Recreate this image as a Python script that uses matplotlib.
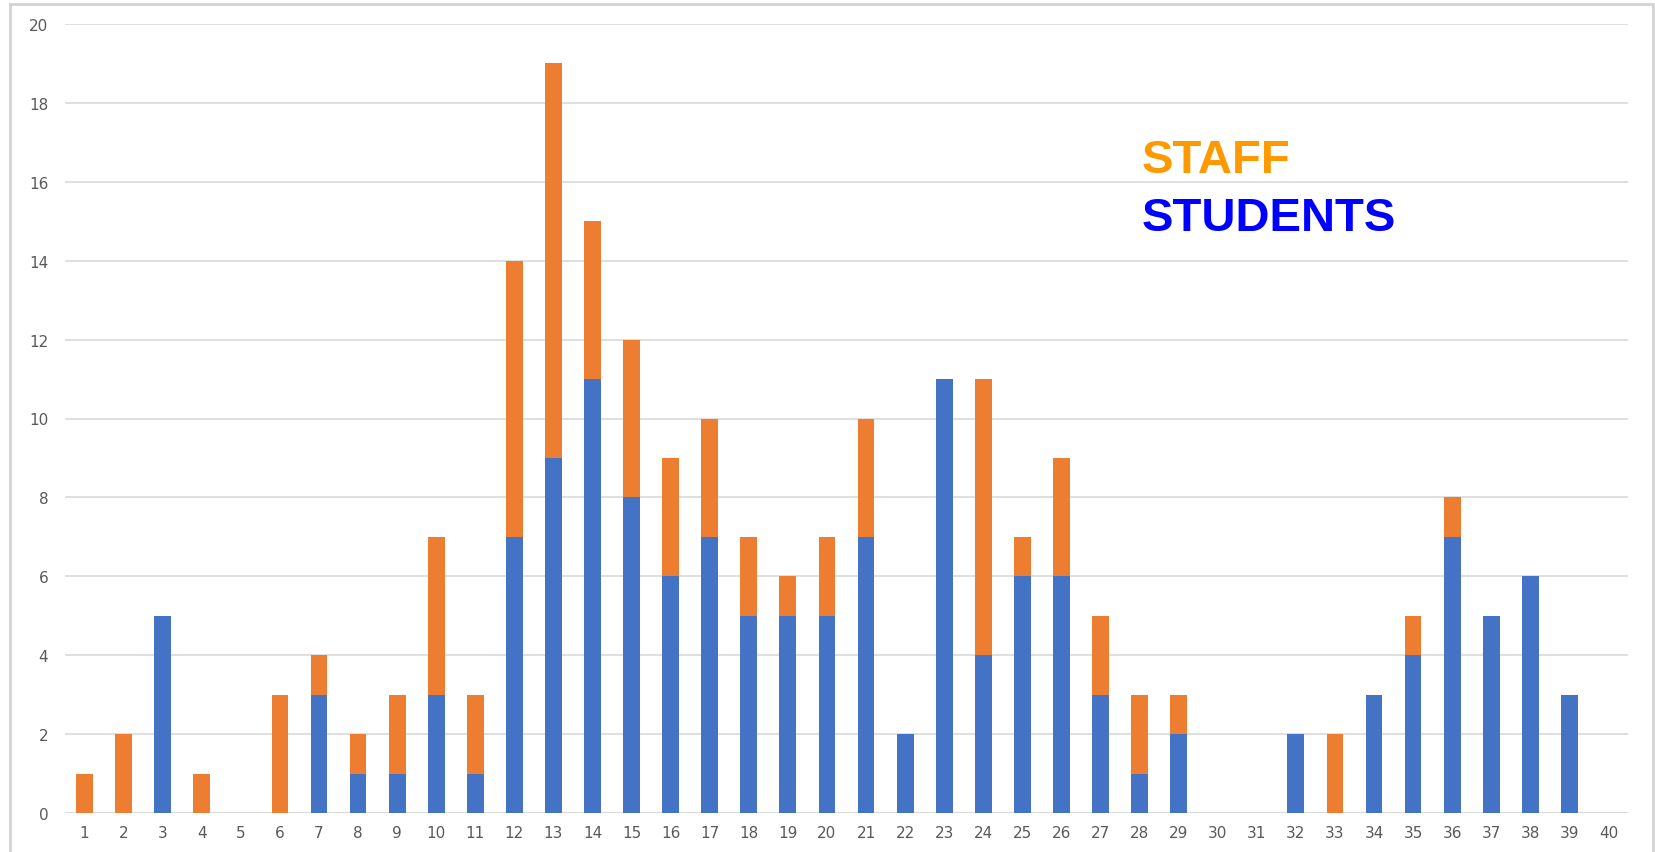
import numpy as np
import matplotlib
matplotlib.use('Agg')
import matplotlib.pyplot as plt
from matplotlib.patches import Rectangle

# data
days = list(range(1, 41))
students = [0, 0, 5, 0, 0, 0, 3, 1, 1, 3,
            1, 7, 9, 11, 8, 6, 7, 5, 5, 5,
            7, 2, 11, 4, 6, 6, 3, 1, 2, 0,
            0, 2, 0, 3, 4, 7, 5, 6, 3, 0]
staff = [1, 2, 0, 1, 0, 3, 1, 1, 2, 4,
         2, 7, 10, 4, 4, 3, 3, 2, 1, 2,
         3, 0, 0, 7, 1, 3, 2, 2, 1, 0,
         0, 0, 2, 0, 1, 1, 0, 0, 0, 0]
yticks = list(range(0, 21, 2))

fig = plt.figure(figsize=(16.55, 8.53), dpi=100)
fig.patch.set_facecolor('white')
fig.patches.append(Rectangle((10 / 1655, -0.02), 1643 / 1655, 1.02 - 5 / 853,
                             transform=fig.transFigure, fill=False,
                             edgecolor='#D3D3D3', linewidth=2))

ax = fig.add_axes([65 / 1655, 1 - 814 / 853, (1628 - 65) / 1655, (814 - 25) / 853])
x = np.array(days)
ax.bar(x, students, width=0.43, color='#4472C4', linewidth=0, zorder=3)
ax.bar(x, staff, width=0.43, bottom=students, color='#ED7D31', linewidth=0, zorder=3)

ax.set_xlim(0.5, 40.5)
ax.set_ylim(0, 20)
ax.set_xticks(days)
ax.set_xticklabels([str(d) for d in days])
ax.set_yticks(yticks)
ax.yaxis.grid(True, color='#D9D9D9', linewidth=1.2, zorder=0)
ax.set_axisbelow(True)
for s in ax.spines.values():
    s.set_visible(False)
ax.axhline(0, color='#D9D9D9', linewidth=1.2, zorder=1)
ax.tick_params(axis='both', length=0, labelsize=11, labelcolor='#595959')
ax.tick_params(axis='x', pad=9)
ax.tick_params(axis='y', pad=12)

fig.text(1142 / 1655, 1 - 173 / 853, 'STAFF', color='#FF9900', fontsize=34,
         fontweight='bold', family='Liberation Sans', va='baseline')
fig.text(1142 / 1655, 1 - 231 / 853, 'STUDENTS', color='#0000FF', fontsize=34,
         fontweight='bold', family='Liberation Sans', va='baseline')

fig.savefig('out.png', dpi=100)
